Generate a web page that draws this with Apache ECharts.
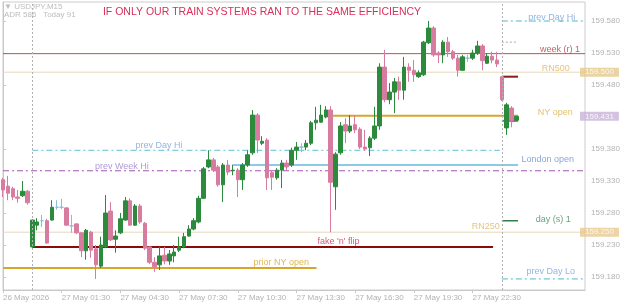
<!DOCTYPE html>
<html>
<head>
<meta charset="utf-8">
<title>USDJPY M15</title>
<script src="https://cdn.jsdelivr.net/npm/echarts@6.0.0/dist/echarts.min.js"></script>
<style>
html, body { margin: 0; padding: 0; background: #fff; }
#chart { width: 625px; height: 305px; }
</style>
</head>
<body>
<div id="chart"></div>
<script>
// USDJPY M15 candles, 26 May 22:30 -> 28 May 00:15
const opens = [
  159.332, 159.322, 159.318, 159.305, 159.307, 159.314,
  159.227, 159.261, 159.268, 159.268, 159.269, 159.289, 159.289, 159.288, 159.260, 159.263,
  159.249, 159.221, 159.250, 159.224, 159.197, 159.227, 159.283, 159.239, 159.249, 159.269,
  159.299, 159.261, 159.291, 159.264, 159.227, 159.203, 159.199, 159.214, 159.205, 159.213,
  159.222, 159.227, 159.244, 159.255, 159.266, 159.303, 159.352, 159.363, 159.352, 159.324,
  159.355, 159.346, 159.347, 159.332, 159.355, 159.374, 159.433, 159.389, 159.394, 159.343,
  159.335, 159.347, 159.358, 159.355, 159.378, 159.383, 159.383, 159.389, 159.421, 159.422,
  159.430, 159.441, 159.321, 159.374, 159.418, 159.408, 159.418, 159.411, 159.383, 159.382,
  159.397, 159.416, 159.508, 159.457, 159.469, 159.485, 159.472, 159.508, 159.503, 159.493,
  159.496, 159.546, 159.569, 159.530, 159.527, 159.547, 159.532, 159.522, 159.503, 159.522,
  159.522, 159.530, 159.541, 159.514, 159.525, 159.519,
  159.493, 159.413, 159.444, 159.425
];
const closes = [
  159.316, 159.311, 159.305, 159.303, 159.314, 159.296,
  159.269, 159.266, 159.268, 159.233, 159.289, 159.289, 159.289, 159.261, 159.260, 159.249,
  159.221, 159.253, 159.222, 159.199, 159.230, 159.280, 159.238, 159.244, 159.271, 159.299,
  159.261, 159.291, 159.266, 159.225, 159.203, 159.196, 159.213, 159.205, 159.216, 159.219,
  159.227, 159.243, 159.255, 159.268, 159.303, 159.349, 159.363, 159.347, 159.324, 159.355,
  159.344, 159.347, 159.332, 159.355, 159.371, 159.433, 159.394, 159.392, 159.335, 159.336,
  159.347, 159.358, 159.352, 159.378, 159.383, 159.383, 159.389, 159.421, 159.425, 159.433,
  159.441, 159.328, 159.372, 159.416, 159.408, 159.416, 159.410, 159.383, 159.380, 159.397,
  159.416, 159.508, 159.457, 159.469, 159.485, 159.472, 159.508, 159.503, 159.496, 159.499,
  159.547, 159.569, 159.527, 159.527, 159.547, 159.532, 159.522, 159.503, 159.524, 159.522,
  159.530, 159.541, 159.518, 159.525, 159.519, 159.513,
  159.457, 159.449, 159.425, 159.431
];
const lows = [
  159.305, 159.300, 159.300, 159.296, 159.305, 159.293,
  159.226, 159.253, 159.258, 159.232, 159.268, 159.285, 159.286, 159.260, 159.249, 159.247,
  159.211, 159.207, 159.210, 159.177, 159.194, 159.225, 159.236, 159.218, 159.247, 159.268,
  159.260, 159.260, 159.263, 159.222, 159.200, 159.188, 159.191, 159.200, 159.199, 159.203,
  159.219, 159.225, 159.243, 159.253, 159.264, 159.302, 159.350, 159.344, 159.321, 159.297,
  159.339, 159.339, 159.305, 159.316, 159.352, 159.371, 159.374, 159.386, 159.316, 159.316,
  159.332, 159.319, 159.347, 159.352, 159.363, 159.375, 159.378, 159.386, 159.410, 159.421,
  159.428, 159.250, 159.285, 159.371, 159.389, 159.405, 159.405, 159.380, 159.377, 159.369,
  159.394, 159.410, 159.453, 159.450, 159.436, 159.457, 159.457, 159.485, 159.485, 159.491,
  159.494, 159.544, 159.524, 159.514, 159.514, 159.524, 159.519, 159.493, 159.502, 159.516,
  159.519, 159.527, 159.503, 159.513, 159.514, 159.508,
  159.455, 159.402, 159.414, 159.424
];
const highs = [
  159.335, 159.338, 159.321, 159.316, 159.330, 159.316,
  159.270, 159.272, 159.277, 159.271, 159.300, 159.300, 159.302, 159.289, 159.277, 159.264,
  159.250, 159.255, 159.252, 159.230, 159.243, 159.308, 159.297, 159.253, 159.280, 159.305,
  159.303, 159.294, 159.294, 159.266, 159.228, 159.211, 159.227, 159.227, 159.222, 159.230,
  159.243, 159.249, 159.261, 159.272, 159.307, 159.352, 159.378, 159.366, 159.355, 159.358,
  159.363, 159.355, 159.350, 159.358, 159.378, 159.441, 159.436, 159.400, 159.397, 159.347,
  159.350, 159.363, 159.363, 159.382, 159.391, 159.389, 159.394, 159.424, 159.446, 159.449,
  159.447, 159.447, 159.375, 159.422, 159.428, 159.433, 159.433, 159.414, 159.410, 159.400,
  159.446, 159.514, 159.535, 159.483, 159.491, 159.493, 159.524, 159.514, 159.519, 159.503,
  159.549, 159.580, 159.572, 159.533, 159.550, 159.555, 159.535, 159.527, 159.527, 159.527,
  159.535, 159.549, 159.544, 159.530, 159.532, 159.532,
  159.493, 159.452, 159.447, 159.432
];

// axis labels
const yTicks = [159.18, 159.23, 159.28, 159.33, 159.38, 159.48, 159.53, 159.58];
const xTickIndex = [0, 12, 24, 36, 48, 60, 72, 84, 96];
const xTickLabels = ['26 May 2026', '27 May 01:30', '27 May 04:30', '27 May 07:30', '27 May 10:30',
  '27 May 13:30', '27 May 16:30', '27 May 19:30', '27 May 22:30'];
const separators = [6, 102]; // day breaks

// horizontal levels drawn on the chart (price, from bar, to bar)
const levelKeys   = ['pdh', 'dot', 'wr1', 'rn500', 'dopen', 'ny', 'bid', 'pdh2', 'ldn', 'pwh', 'ds1', 'rn250', 'flip', 'priorny', 'pdl'];
const levelPrices = [159.580, 159.547, 159.529, 159.500, 159.493, 159.432, 159.424, 159.378, 159.355, 159.346, 159.268, 159.250, 159.227, 159.194, 159.177];
const levelFrom   = [102, 102, 0, 0, 102, 66.5, 102, 6, 46.9, 0, 102, 0, 6, 0, 102];
const levelTo     = [119, 105, 119, 119, 105.3, 105.3, 105.3, 101.6, 105.3, 119, 105.3, 119, 100.2, 64.1, 119];

// text notes next to the levels
const noteText  = ['prev Day Hi', 'week (r) 1', 'RN500', 'NY open', 'prev Day Hi', 'London open',
  'prev Week Hi', 'day (s) 1', 'RN250', "fake 'n' flip", 'prior NY open', 'prev Day Lo'];
const noteBar   = [112.2, 113.9, 113.0, 112.9, 31.9, 111.4, 24.3, 112.5, 98.7, 68.6, 56.9, 112.0];
const notePrice = [159.586, 159.536, 159.506, 159.437, 159.386, 159.363, 159.352, 159.270, 159.259, 159.236, 159.203, 159.189];

// price tags on the right axis
const tagPrices = [159.500, 159.431, 159.250];

const levelStyle = {
  pdh:     { color: '#4fb9cc', width: 1, type: [6, 3, 2, 3] },
  dot:     { color: '#a8a8a8', width: 1, type: [2, 2] },
  wr1:     { color: '#d04c4c', width: 1, type: 'solid' },
  rn500:   { color: '#e4d8bd', width: 1, type: 'solid' },
  dopen:   { color: '#8b1a1a', width: 2, type: 'solid' },
  ny:      { color: '#d6a62b', width: 2, type: 'solid' },
  bid:     { color: '#c93ac9', width: 2, type: 'solid' },
  pdh2:    { color: '#5fc2d2', width: 1, type: [6, 3, 2, 3] },
  ldn:     { color: '#8ccbe8', width: 2, type: 'solid' },
  pwh:     { color: '#a352b3', width: 1, type: [6, 3, 2, 3] },
  ds1:     { color: '#2f7d50', width: 1.5, type: 'solid' },
  rn250:   { color: '#e4d8bd', width: 1, type: 'solid' },
  flip:    { color: '#8b0a0a', width: 2, type: 'solid' },
  priorny: { color: '#d6a62b', width: 2, type: 'solid' },
  pdl:     { color: '#4fb9cc', width: 1, type: [6, 3, 2, 3] }
};
const noteColor = ['#7aa0d8', '#b13a3a', '#e2b45a', '#d8b143', '#7aa0d8', '#6d90cd',
  '#9a82cc', '#3e8a5d', '#e2b45a', '#cc3150', '#d6a62b', '#7aa0d8'];
const tagColor = ['#e6c98d', '#c8b4d9', '#e9c990'];

// category labels every 15 minutes
const N = 120;
const start = Date.UTC(2026, 4, 26, 22, 30);
const cats = [];
for (let i = 0; i < N; i++) {
  const d = new Date(start + i * 15 * 60000);
  cats.push(d.getUTCDate() + ' May ' + String(d.getUTCHours()).padStart(2, '0') + ':' + String(d.getUTCMinutes()).padStart(2, '0'));
}
const candles = opens.map((o, i) => [o, closes[i], lows[i], highs[i]]);

const font = "'Liberation Sans', Arial, sans-serif";
const series = [];

levelKeys.forEach((k, i) => {
  const s = levelStyle[k];
  series.push({
    type: 'line',
    xAxisIndex: 1,
    silent: true,
    symbol: 'none',
    z: 1,
    lineStyle: { color: s.color, width: s.width, type: s.type },
    data: [[levelFrom[i], levelPrices[i]], [levelTo[i], levelPrices[i]]]
  });
});

series.push({
  type: 'candlestick',
  xAxisIndex: 0,
  barWidth: 4,
  z: 3,
  itemStyle: {
    color: '#2b8a3c',
    color0: '#d87c9f',
    borderColor: '#2b8a3c',
    borderColor0: '#d87c9f',
    borderColorDoji: '#86bde3',
    borderWidth: 1
  },
  markLine: {
    silent: true,
    symbol: ['none', 'none'],
    label: { show: false },
    lineStyle: { color: '#b0b0b0', width: 1, type: [2, 2] },
    data: separators.map(v => ({ xAxis: v }))
  },
  data: candles
});

series.push({
  type: 'scatter',
  xAxisIndex: 1,
  symbolSize: 0,
  silent: true,
  z: 5,
  label: { show: true, position: 'inside', fontSize: 9, fontFamily: font },
  data: noteText.map((t, i) => ({
    value: [noteBar[i], notePrice[i]],
    label: { formatter: t, color: noteColor[i] }
  }))
});

series.push({
  type: 'scatter',
  xAxisIndex: 1,
  symbolSize: 0,
  silent: true,
  z: 6,
  label: {
    show: true,
    position: 'right',
    distance: 0,
    offset: [-5, 0],
    fontSize: 8,
    lineHeight: 9,
    fontFamily: font,
    color: '#ffffff',
    padding: [0, 5]
  },
  data: tagPrices.map((p, i) => ({
    value: [119, p],
    label: { formatter: p.toFixed(3), backgroundColor: tagColor[i] }
  }))
});

const chart = echarts.init(document.getElementById('chart'));
chart.setOption({
  animation: false,
  backgroundColor: '#ffffff',
  grid: { left: 2, right: 40, top: 2, bottom: 15, show: true, borderColor: '#cccccc', borderWidth: 1 },
  xAxis: [
    {
      type: 'category',
      data: cats,
      boundaryGap: false,
      axisLine: { lineStyle: { color: '#c8c8c8' } },
      axisTick: { interval: (i) => xTickIndex.includes(i), length: 3, lineStyle: { color: '#c8c8c8' } },
      axisLabel: {
        interval: (i) => xTickIndex.includes(i),
        formatter: (v, i) => xTickLabels[xTickIndex.indexOf(i)] || '',
        align: 'left',
        margin: 4,
        fontSize: 8,
        fontFamily: font,
        color: '#b3b3b3'
      },
      splitLine: { show: false }
    },
    { type: 'value', min: 0, max: N - 1, show: false }
  ],
  yAxis: {
    type: 'value',
    position: 'right',
    min: 159.1597,
    max: 159.6097,
    scale: true,
    axisLine: { show: true, lineStyle: { color: '#c8c8c8' } },
    axisTick: { show: true, customValues: yTicks, length: 3, lineStyle: { color: '#c8c8c8' } },
    axisLabel: {
      customValues: yTicks,
      formatter: (v) => v.toFixed(3),
      margin: 6,
      fontSize: 8,
      fontFamily: font,
      color: '#b3b3b3'
    },
    splitLine: { show: false }
  },
  graphic: [
    { type: 'text', x: 262, y: 12, style: { text: 'IF ONLY OUR TRAIN SYSTEMS RAN TO THE SAME EFFICIENCY', fill: '#d9305a', font: "10.5px 'Liberation Sans', Arial, sans-serif", textAlign: 'center', textVerticalAlign: 'middle' } },
    { type: 'text', x: 4, y: 7, style: { text: '▼ USDJPY,M15', fill: '#bcbcbc', font: "8px 'Liberation Sans', Arial, sans-serif", textVerticalAlign: 'middle' } },
    { type: 'text', x: 4, y: 15, style: { text: 'ADR 586   Today 91', fill: '#bcbcbc', font: "8px 'Liberation Sans', Arial, sans-serif", textVerticalAlign: 'middle' } }
  ],
  series: series
});
</script>
</body>
</html>
